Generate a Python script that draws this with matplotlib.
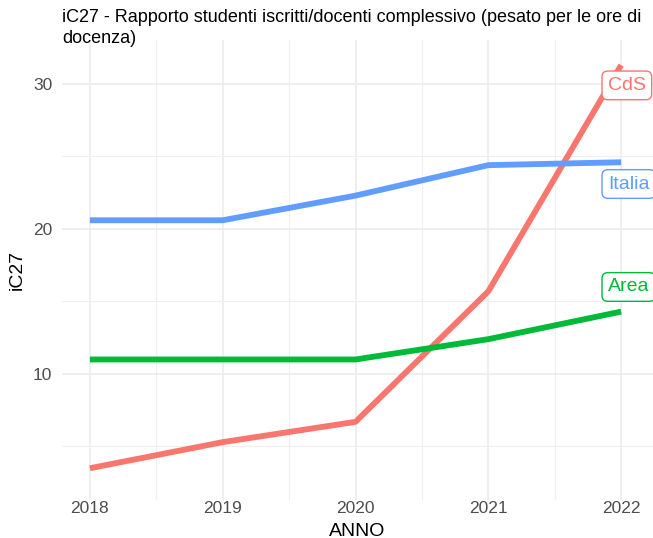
import matplotlib
matplotlib.use("Agg")
import matplotlib.pyplot as plt
from matplotlib.ticker import MultipleLocator

# data
anni = [2018, 2019, 2020, 2021, 2022]
serie = ["CdS", "Italia", "Area"]
cds = [3.5, 5.3, 6.7, 15.7, 31.3]
italia = [20.6, 20.6, 22.3, 24.4, 24.6]
area = [11.0, 11.0, 11.0, 12.4, 14.3]
colori = ["#F8766D", "#619CFF", "#00BA38"]
# where the repelled labels end up (y of each label box)
label_y = [29.9, 23.1, 16.0]

plt.rcParams['font.family'] = ['Liberation Sans', 'DejaVu Sans']

fig = plt.figure(figsize=(6.53, 5.38), dpi=100)
ax = fig.add_axes([62/653, 1 - 500/538, 1 - 62/653, 460/538])

valori = [cds, italia, area]
for nome, v, c in zip(serie, valori, colori):
    ax.plot(anni, v, color=c, lw=4.2, solid_capstyle='butt', solid_joinstyle='round', zorder=3)

for nome, yl, c in zip(serie, label_y, colori):
    ax.text(2021.9, yl, nome, color=c, fontsize=14, ha='left', va='center', zorder=5,
            bbox=dict(boxstyle='round,pad=0.3,rounding_size=0.3', fc='white', ec=c, lw=1.0),
            clip_on=False)

ax.set_xlim(2017.79, 2022.24)
ax.set_ylim(1.31, 33.03)
ax.set_xticks(anni)
ax.xaxis.set_minor_locator(MultipleLocator(0.5))
ax.set_yticks([10, 20, 30])
ax.yaxis.set_minor_locator(MultipleLocator(5))

ax.grid(which='major', color='#EBEBEB', lw=1.1)
ax.grid(which='minor', color='#EFEFEF', lw=0.8)
ax.set_axisbelow(True)
for s in ax.spines.values():
    s.set_visible(False)
ax.tick_params(which='both', length=0)
ax.tick_params(axis='x', labelsize=12.5, labelcolor='#4D4D4D', pad=1)
ax.tick_params(axis='y', labelsize=12.5, labelcolor='#4D4D4D', pad=7)

ax.set_xlabel('ANNO', fontsize=14)
ax.xaxis.set_label_coords(0.5, -31/460)
ax.xaxis.label.set_va('center')
ax.set_ylabel('iC27', fontsize=14)
ax.yaxis.set_label_coords(-45/591, 0.5)
ax.yaxis.label.set_va('center')

fig.text(62/653, 1 - 9/538,
         "iC27 - Rapporto studenti iscritti/docenti complessivo (pesato per le ore di\ndocenza)",
         fontsize=13, ha='left', va='top', linespacing=1.3)

plt.savefig("out.png", dpi=100)
